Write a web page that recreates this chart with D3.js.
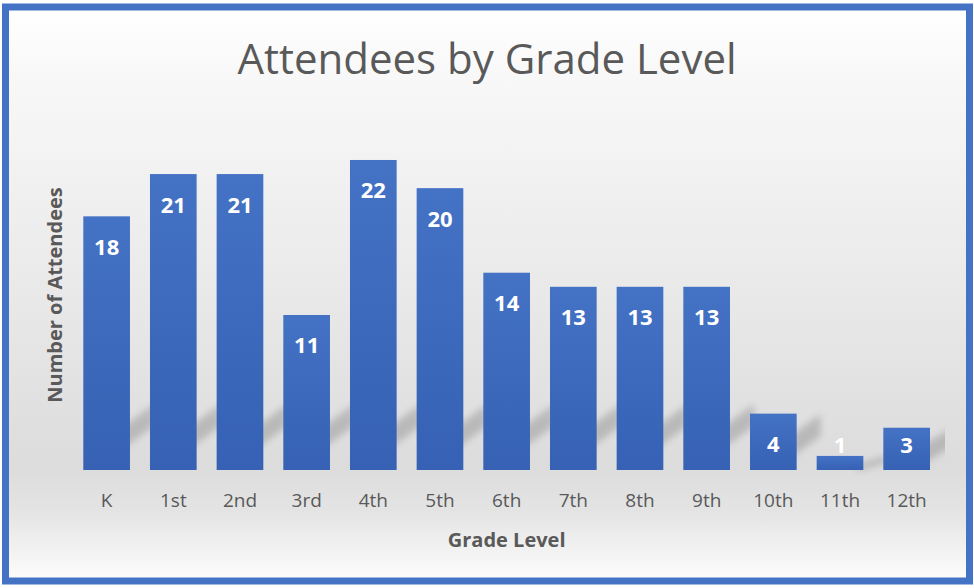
<!DOCTYPE html>
<html>
<head>
<meta charset="utf-8">
<script src="https://cdn.jsdelivr.net/npm/d3@7/dist/d3.min.js"></script>
<style>
  html, body { margin: 0; padding: 0; background: #ffffff; }
  svg { display: block; }
</style>
</head>
<body>
<script>
// Attendance counts per grade
const grades = ["K", "1st", "2nd", "3rd", "4th", "5th", "6th", "7th", "8th", "9th", "10th", "11th", "12th"];
const attendees = [18, 21, 21, 11, 22, 20, 14, 13, 13, 13, 4, 1, 3];
const chartTitle = "Attendees by Grade Level";
const xTitle = "Grade Level";
const yTitle = "Number of Attendees";

const W = 974, H = 588;
const font = "'Open Sans', 'Noto Sans', sans-serif";
const textGray = "#595959";

const svg = d3.select("body").append("svg")
  .attr("width", W).attr("height", H);

const defs = svg.append("defs");

// chart-area background: light at top, grey around the baseline, light again at bottom
const bg = defs.append("linearGradient").attr("id", "bgGrad")
  .attr("x1", 0).attr("y1", 0).attr("x2", 0).attr("y2", 1);
[[0, "#ffffff"], [0.12, "#f8f8f8"], [0.45, "#ebebeb"], [0.8, "#dcdcdc"], [0.88, "#e4e4e4"], [1, "#fdfdfd"]]
  .forEach(([o, c]) => bg.append("stop").attr("offset", o).attr("stop-color", c));

// bar fill
const barGrad = defs.append("linearGradient").attr("id", "barGrad")
  .attr("x1", 0).attr("y1", 0).attr("x2", 0).attr("y2", 1);
barGrad.append("stop").attr("offset", 0).attr("stop-color", "#4472c4");
barGrad.append("stop").attr("offset", 1).attr("stop-color", "#3661b4");

const blur = defs.append("filter").attr("id", "shadowBlur")
  .attr("x", "-50%").attr("y", "-50%").attr("width", "200%").attr("height", "200%");
blur.append("feGaussianBlur").attr("stdDeviation", 3.8);

// shadows stay inside the plot area
defs.append("clipPath").attr("id", "plotClip")
  .append("rect").attr("x", 60).attr("y", 100).attr("width", 885).attr("height", 380);

// frame
svg.append("rect")
  .attr("x", 5.5).attr("y", 7).attr("width", 964).attr("height", 574)
  .attr("fill", "url(#bgGrad)")
  .attr("stroke", "#4472c4").attr("stroke-width", 7);

// scales
const x = d3.scaleBand()
  .domain(grades)
  .range([73.3, 940])
  .paddingInner(0.3)
  .paddingOuter(0.15);

const y = d3.scaleLinear()
  .domain([0, 25])
  .range([470, 117.7]);

const data = grades.map((g, i) => ({ grade: g, value: attendees[i] }));
const base = y(0);
const bw = x.bandwidth();
const gap = x.step() - bw;

// perspective shadows cast up and to the right of each bar
svg.append("g").attr("clip-path", "url(#plotClip)")
  .append("g").attr("filter", "url(#shadowBlur)")
  .selectAll("path")
  .data(data)
  .join("path")
  .attr("fill", "#000")
  .attr("fill-opacity", 0.17)
  .attr("d", d => {
    const h = base - y(d.value);
    const off = Math.min(38, h * 0.5);
    const th = Math.min(22, h * 0.45);
    const x1 = x(d.grade) + bw;
    const len = gap + 4;
    const rise = Math.min(17, h * 0.3);
    return `M${x1 - 6},${base - off + th / 2 + 5}` +
      `L${x1 + len},${base - off + th / 2 - rise}` +
      `L${x1 + len},${base - off - th / 2 - rise}` +
      `L${x1 - 6},${base - off - th / 2 + 5}Z`;
  });

// bars
svg.append("g")
  .selectAll("rect")
  .data(data)
  .join("rect")
  .attr("x", d => x(d.grade))
  .attr("y", d => y(d.value))
  .attr("width", bw)
  .attr("height", d => base - y(d.value))
  .attr("fill", "url(#barGrad)");

// value labels, inside the top of each bar
svg.append("g")
  .selectAll("text")
  .data(data)
  .join("text")
  .attr("x", d => x(d.grade) + bw / 2)
  .attr("y", d => Math.min(y(d.value) + 38.5, base - 17))
  .attr("text-anchor", "middle")
  .attr("font-family", font)
  .attr("font-weight", "bold")
  .attr("font-size", 22)
  .attr("fill", "#ffffff")
  .text(d => d.value);

// category axis
const xAxis = svg.append("g")
  .attr("transform", `translate(0,${base})`)
  .call(d3.axisBottom(x).tickSize(0).tickPadding(24));
xAxis.select(".domain").remove();
xAxis.selectAll("text")
  .attr("font-family", font)
  .attr("font-size", 19)
  .attr("fill", textGray);

// title
svg.append("text")
  .attr("x", 487).attr("y", 74)
  .attr("text-anchor", "middle")
  .attr("font-family", font)
  .attr("font-size", 42)
  .attr("fill", textGray)
  .text(chartTitle);

// axis titles
svg.append("text")
  .attr("x", (x.range()[0] + x.range()[1]) / 2).attr("y", 547)
  .attr("text-anchor", "middle")
  .attr("font-family", font)
  .attr("font-weight", "bold")
  .attr("font-size", 20)
  .attr("fill", textGray)
  .text(xTitle);

svg.append("text")
  .attr("transform", "translate(62,295) rotate(-90)")
  .attr("text-anchor", "middle")
  .attr("font-family", font)
  .attr("font-weight", "bold")
  .attr("font-size", 20)
  .attr("fill", textGray)
  .text(yTitle);
</script>
</body>
</html>
